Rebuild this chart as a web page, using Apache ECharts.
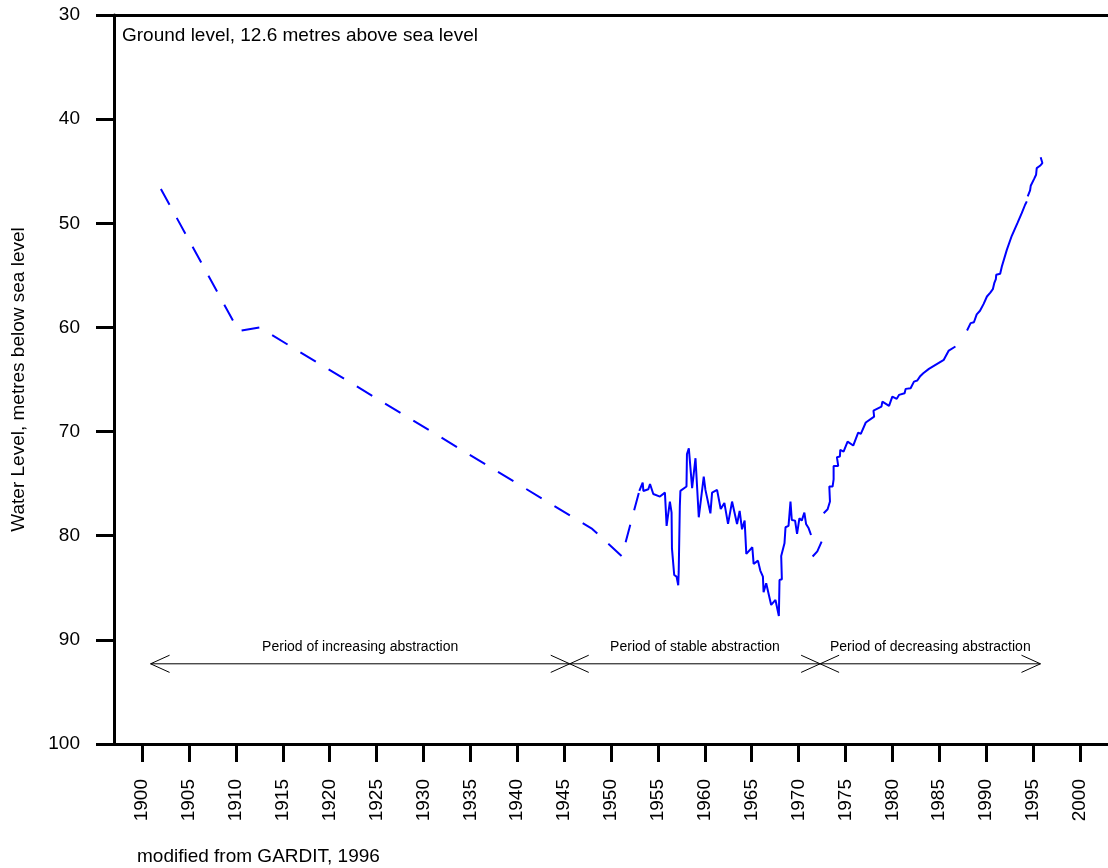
<!DOCTYPE html>
<html>
<head>
<meta charset="utf-8">
<script src="https://cdn.jsdelivr.net/npm/echarts@6/dist/echarts.min.js"></script>
<style>
  html, body { margin: 0; padding: 0; background: #fff; }
  #chart { width: 1108px; height: 868px; }
</style>
</head>
<body>
<div id="chart"></div>
<script>
// ---- Data ----
const xTickValues = [1900, 1905, 1910, 1915, 1920, 1925, 1930, 1935, 1940, 1945, 1950,
                     1955, 1960, 1965, 1970, 1975, 1980, 1985, 1990, 1995, 2000];

// sparse observations (drawn dashed)
const dashedData = [
  [1902.0, 46.7], [1910.3, 60.35], [1912.5, 60.0], [1948.0, 79.35],
  [1951.16, 81.97], [1953.02, 75.7],
  null,
  [1971.5, 82.0], [1972.0, 81.5], [1972.46, 80.56]
];

// dense observations (drawn solid)
const solidData = [
  [1953.02, 75.70], [1953.38, 74.90], [1953.45, 75.70], [1953.98, 75.54], [1954.16, 75.03],
  [1954.51, 75.99], [1955.22, 76.24], [1955.75, 75.86], [1955.93, 79.06], [1956.28, 76.72],
  [1956.46, 77.78], [1956.50, 81.21], [1956.63, 81.30], [1956.74, 83.77], [1956.99, 83.93],
  [1957.17, 84.76], [1957.22, 83.45], [1957.34, 77.14], [1957.48, 77.14], [1957.40, 75.70],
  [1958.05, 75.28], [1958.10, 72.15], [1958.30, 71.60], [1958.65, 75.44], [1959.01, 72.56],
  [1959.36, 78.23], [1959.89, 74.32], [1960.07, 75.60], [1960.60, 77.85], [1960.78, 75.86],
  [1961.31, 75.60], [1961.70, 77.43], [1962.09, 76.85], [1962.48, 78.87], [1962.91, 76.72],
  [1963.44, 78.87], [1963.72, 77.62], [1963.97, 79.38], [1964.25, 78.55], [1964.43, 81.75],
  [1965.07, 81.11], [1965.21, 82.71], [1965.67, 82.39], [1965.92, 83.35], [1966.09, 83.45],
  [1966.20, 83.93], [1966.38, 83.93], [1966.27, 85.43], [1966.55, 84.57], [1967.08, 86.65],
  [1967.54, 86.17], [1967.90, 87.71], [1967.97, 84.25], [1968.22, 84.18], [1968.15, 81.94],
  [1968.50, 80.73], [1968.68, 80.66], [1968.61, 79.19], [1968.93, 79.06], [1969.14, 76.72],
  [1969.28, 78.49], [1969.63, 78.55], [1969.84, 79.83], [1970.09, 78.33], [1970.34, 78.55],
  [1970.62, 77.78], [1970.80, 78.87], [1971.08, 79.29], [1971.33, 79.93],
  null,
  [1972.68, 77.84], [1973.10, 77.46], [1973.28, 77.46], [1973.35, 76.72], [1973.28, 75.28],
  [1973.63, 75.28], [1973.74, 74.58], [1973.74, 73.30], [1974.23, 73.30], [1974.09, 72.46],
  [1974.41, 72.40], [1974.45, 71.76], [1974.80, 71.92], [1975.23, 70.96], [1975.83, 71.34],
  [1976.36, 70.10], [1976.64, 70.22], [1977.17, 69.13], [1978.06, 68.56], [1977.99, 67.98],
  [1978.84, 67.60], [1978.94, 67.12], [1979.65, 67.53], [1980.00, 66.64], [1980.47, 66.86],
  [1980.71, 66.48], [1981.31, 66.32], [1981.42, 65.90], [1981.95, 65.84], [1982.31, 65.20],
  [1982.66, 65.10], [1982.94, 64.72], [1983.08, 64.88], [1983.30, 64.40], [1983.90, 63.98],
  [1985.49, 63.11], [1986.02, 62.22], [1986.73, 61.83],
  null,
  [1987.97, 60.30], [1988.35, 59.59], [1988.70, 59.50], [1989.00, 58.75], [1989.35, 58.40],
  [1989.74, 57.74], [1990.09, 57.03], [1990.45, 56.65], [1990.72, 56.33], [1990.87, 55.75],
  [1991.04, 55.37], [1991.08, 54.95], [1991.50, 54.85], [1991.68, 54.15], [1992.21, 52.55],
  [1992.74, 51.20], [1993.34, 49.99], [1993.80, 49.03], [1994.16, 48.22], [1994.34, 47.90],
  null,
  [1994.44, 47.42], [1994.69, 46.85], [1994.76, 46.40], [1995.11, 45.76], [1995.33, 45.34],
  [1995.40, 44.70], [1995.75, 44.48], [1996.00, 44.22], [1995.82, 43.65]
];

// abstraction periods (arrows)
const periodNames = ['Period of increasing abstraction', 'Period of stable abstraction', 'Period of decreasing abstraction'];
const periodStart = [1900.9, 1945.6, 1972.3];
const periodEnd = [1945.6, 1972.3, 1995.8];
const arrowLevel = 92.3;

const FONT = "Arial, 'Liberation Sans', Helvetica, sans-serif";

const chart = echarts.init(document.getElementById('chart'), null, { renderer: 'canvas' });

const option = {
  backgroundColor: '#ffffff',
  animation: false,
  grid: { left: 114, top: 15, width: 998, height: 729, containLabel: false },
  xAxis: [
    {
      type: 'value', position: 'bottom', min: 1897, max: 2003,
      axisLine: { show: true, lineStyle: { color: '#000', width: 3 } },
      axisTick: { show: true, inside: false, length: 18, lineStyle: { color: '#000', width: 3 }, customValues: xTickValues },
      axisLabel: { show: true, rotate: 90, margin: 35, fontSize: 19, color: '#000', fontFamily: FONT,
                   customValues: xTickValues, formatter: v => String(v) },
      splitLine: { show: false }
    },
    {
      type: 'value', position: 'top', min: 1897, max: 2003,
      axisLine: { show: true, lineStyle: { color: '#000', width: 3 } },
      axisTick: { show: false }, axisLabel: { show: false }, splitLine: { show: false }
    }
  ],
  yAxis: {
    type: 'value', inverse: true, min: 30, max: 100, interval: 10,
    name: 'Water Level, metres below sea level', nameLocation: 'middle', nameRotate: 90, nameGap: 86,
    nameTextStyle: { fontSize: 19, color: '#000', fontFamily: FONT },
    axisLine: { show: true, lineStyle: { color: '#000', width: 3 } },
    axisTick: { show: true, inside: false, length: 18, lineStyle: { color: '#000', width: 3 } },
    axisLabel: { margin: 34, fontSize: 19, color: '#000', fontFamily: FONT },
    splitLine: { show: false }
  },
  graphic: [
    { type: 'text', left: 122, top: 26, style: { text: 'Ground level, 12.6 metres above sea level', fontSize: 19, fill: '#000', fontFamily: FONT } },
    { type: 'text', left: 137, top: 847, style: { text: 'modified from GARDIT, 1996', fontSize: 19, fill: '#000', fontFamily: FONT } }
  ],
  series: [
    {
      type: 'line', data: dashedData, showSymbol: false, symbol: 'none', connectNulls: false,
      lineStyle: { color: '#0000ff', width: 2, type: [18, 15] }, silent: true, z: 3
    },
    {
      type: 'line', data: solidData, showSymbol: false, symbol: 'none', connectNulls: false,
      lineStyle: { color: '#0000ff', width: 2 }, silent: true, z: 4
    },
    {
      type: 'custom', silent: true, clip: false, z: 5,
      data: periodStart.map((s, i) => [s, periodEnd[i], arrowLevel]),
      encode: { x: [0, 1], y: 2 },
      renderItem: function (params, api) {
        const s = api.coord([api.value(0), api.value(2)]);
        const e = api.coord([api.value(1), api.value(2)]);
        const ah = 19, aw = 8.6;
        const st = { stroke: '#000', lineWidth: 1, fill: null };
        return {
          type: 'group',
          children: [
            { type: 'line', shape: { x1: s[0], y1: s[1], x2: e[0], y2: e[1] }, style: st },
            { type: 'polyline', shape: { points: [[s[0] + ah, s[1] - aw], [s[0], s[1]], [s[0] + ah, s[1] + aw]] }, style: st },
            { type: 'polyline', shape: { points: [[e[0] - ah, e[1] - aw], [e[0], e[1]], [e[0] - ah, e[1] + aw]] }, style: st },
            { type: 'text', style: { text: periodNames[params.dataIndex], x: (s[0] + e[0]) / 2, y: s[1] - 17,
                align: 'center', verticalAlign: 'middle', fontSize: 14, fill: '#000', fontFamily: FONT } }
          ]
        };
      }
    }
  ]
};
chart.setOption(option);
</script>
</body>
</html>
